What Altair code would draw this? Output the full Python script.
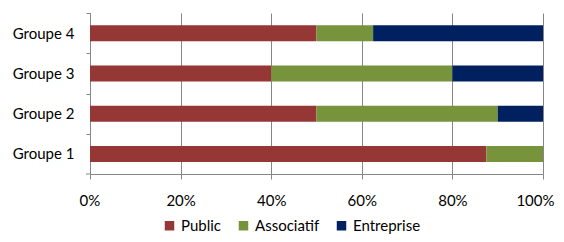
import altair as alt
import pandas as pd

groups = ["Groupe 1", "Groupe 2", "Groupe 3", "Groupe 4"]
series = ["Public", "Associatif", "Entreprise"]
public = [87.5, 50, 40, 50]
associatif = [12.5, 40, 40, 12.5]
entreprise = [0, 10, 20, 37.5]
colors = ["#953735", "#77933C", "#002060"]

rows = []
for i, g in enumerate(groups):
    for k, (s, vals) in enumerate(zip(series, [public, associatif, entreprise])):
        rows.append({"groupe": g, "serie": s, "valeur": vals[i], "ordre": k})
df = pd.DataFrame(rows)

FONT = "Lato"
FS = 15
GRID = "#868686"

bars = alt.Chart(df).mark_bar(size=16).encode(
    x=alt.X("valeur:Q", stack="normalize",
            scale=alt.Scale(domain=[0, 1], nice=False),
            axis=alt.Axis(format=".0%", values=[0, 0.2, 0.4, 0.6, 0.8, 1.0],
                          title=None, grid=True, gridColor=GRID, gridWidth=1,
                          domainColor=GRID, tickColor=GRID, tickSize=5,
                          labelFlush=True, labelFlushOffset=11,
                          labelPadding=14, labelFontSize=FS, labelFont=FONT,
                          labelColor="#000000")),
    y=alt.Y("groupe:N", sort=list(reversed(groups)),
            scale=alt.Scale(paddingInner=0.6, paddingOuter=0.3),
            axis=alt.Axis(title=None, domainColor=GRID, tickColor=GRID, tickSize=4,
                          tickOffset=-20, labelOffset=20, labelPadding=12,
                          labelFontSize=FS, labelFont=FONT, labelColor="#000000",
                          grid=False)),
    color=alt.Color("serie:N", scale=alt.Scale(domain=series, range=colors),
                    legend=alt.Legend(title=None, orient="none", direction="horizontal",
                                      legendX=72, legendY=205, symbolType="square",
                                      symbolSize=90, symbolStrokeWidth=0,
                                      labelFontSize=FS, labelFont=FONT,
                                      labelColor="#000000", columnPadding=14,
                                      labelOffset=4, symbolOpacity=1)),
    order=alt.Order("ordre:Q"),
)

corner = alt.Chart(pd.DataFrame({"a": [0]})).mark_rule(color=GRID).encode(
    x=alt.value(-4), x2=alt.value(0), y=alt.value(161)
)

chart = alt.layer(bars, corner).properties(
    width=453, height=161,
    autosize=alt.AutoSizeParams(type="none"),
    padding={"left": 82, "top": 5, "right": 13, "bottom": 60},
).configure_view(stroke=None)

chart.save("out.html", embed_options={"renderer": "svg", "actions": False})
